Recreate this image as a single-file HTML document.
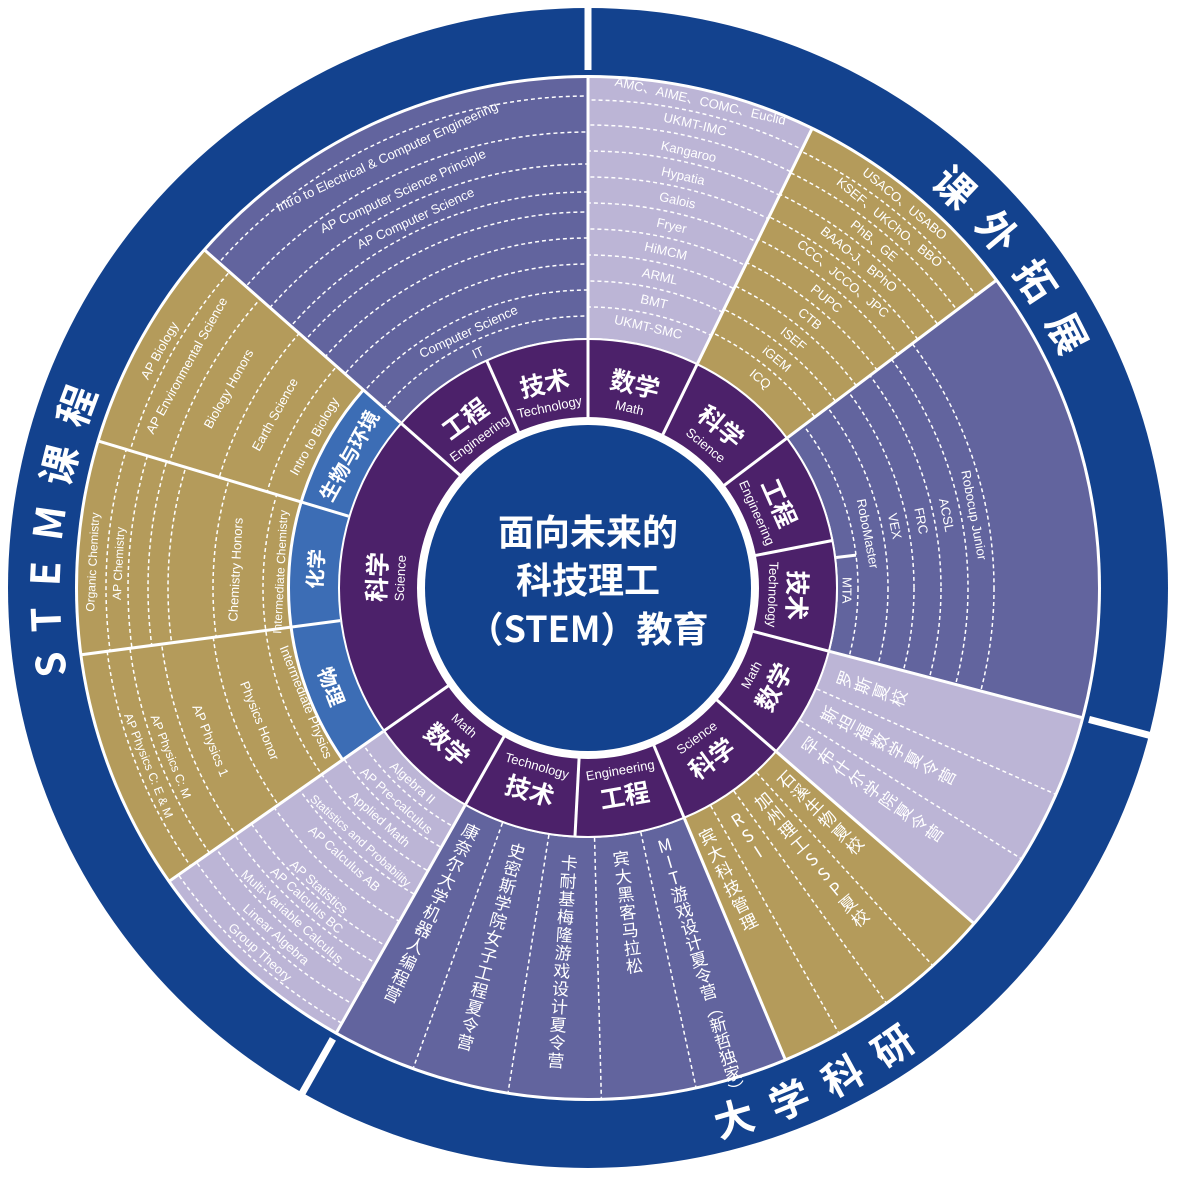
<!DOCTYPE html>
<html><head><meta charset="utf-8"><style>
html,body{margin:0;padding:0;background:#fff;}
svg{display:block;}
text{font-family:"Liberation Sans","Noto Sans CJK SC",sans-serif;fill:#fff;}
.l{font-size:13px;text-anchor:middle;dominant-baseline:central;}
.s{font-size:12px;text-anchor:middle;dominant-baseline:central;}
.cn{font-size:25px;font-weight:bold;text-anchor:middle;dominant-baseline:central;font-family:"Noto Sans CJK SC",sans-serif;}
.en{font-size:13px;text-anchor:middle;dominant-baseline:central;}
.sb{font-size:20px;font-weight:bold;text-anchor:middle;dominant-baseline:central;font-family:"Noto Sans CJK SC",sans-serif;}
.v{font-size:17px;letter-spacing:2px;writing-mode:vertical-rl;text-orientation:upright;font-family:"Noto Sans CJK SC",sans-serif;}
.big{font-size:40px;font-weight:bold;font-family:"Noto Sans CJK SC",sans-serif;letter-spacing:20px;}
.ctr{font-size:36px;font-weight:bold;text-anchor:middle;dominant-baseline:central;font-family:"Noto Sans CJK SC",sans-serif;}
.d{fill:none;stroke:#fff;stroke-width:1.5;stroke-dasharray:4 3;}
</style></head><body>
<svg width="1177" height="1177" viewBox="0 0 1177 1177">
<defs>
<mask id="mA" maskUnits="userSpaceOnUse" x="0" y="0" width="1177" height="1177"><circle cx="588" cy="588" r="380" fill="none" stroke="#fff" stroke-width="262" pathLength="360" stroke-dasharray="26 360" stroke-dashoffset="0" transform="rotate(-90 588 588)"/></mask>
<mask id="mB" maskUnits="userSpaceOnUse" x="0" y="0" width="1177" height="1177"><circle cx="588" cy="588" r="380" fill="none" stroke="#fff" stroke-width="262" pathLength="360" stroke-dasharray="27 360" stroke-dashoffset="-26" transform="rotate(-90 588 588)"/></mask>
<mask id="mC" maskUnits="userSpaceOnUse" x="0" y="0" width="1177" height="1177"><circle cx="588" cy="588" r="380" fill="none" stroke="#fff" stroke-width="262" pathLength="360" stroke-dasharray="51.7 360" stroke-dashoffset="-53" transform="rotate(-90 588 588)"/></mask>
<mask id="mM" maskUnits="userSpaceOnUse" x="0" y="0" width="1177" height="1177"><circle cx="588" cy="588" r="380" fill="none" stroke="#fff" stroke-width="262" pathLength="360" stroke-dasharray="25.5 360" stroke-dashoffset="-209.5" transform="rotate(-90 588 588)"/></mask>
<mask id="mP" maskUnits="userSpaceOnUse" x="0" y="0" width="1177" height="1177"><circle cx="588" cy="588" r="405" fill="none" stroke="#fff" stroke-width="212" pathLength="360" stroke-dasharray="27.5 360" stroke-dashoffset="-235" transform="rotate(-90 588 588)"/></mask>
<mask id="mH" maskUnits="userSpaceOnUse" x="0" y="0" width="1177" height="1177"><circle cx="588" cy="588" r="405" fill="none" stroke="#fff" stroke-width="212" pathLength="360" stroke-dasharray="24.2 360" stroke-dashoffset="-262.5" transform="rotate(-90 588 588)"/></mask>
<mask id="mG" maskUnits="userSpaceOnUse" x="0" y="0" width="1177" height="1177"><circle cx="588" cy="588" r="405" fill="none" stroke="#fff" stroke-width="212" pathLength="360" stroke-dasharray="24.7 360" stroke-dashoffset="-286.7" transform="rotate(-90 588 588)"/></mask>
<mask id="mS" maskUnits="userSpaceOnUse" x="0" y="0" width="1177" height="1177"><circle cx="588" cy="588" r="380" fill="none" stroke="#fff" stroke-width="262" pathLength="360" stroke-dasharray="48.6 360" stroke-dashoffset="-311.4" transform="rotate(-90 588 588)"/></mask>
<path id="cw" d="M 588 1116 A 528 528 0 1 1 588 60 A 528 528 0 1 1 588 1116"/>
<path id="ccw" d="M 588 23 A 565 565 0 1 0 588 1153 A 565 565 0 1 0 588 23"/>
</defs>

<circle cx="588" cy="588" r="580" fill="#13428e"/>
<circle cx="588" cy="588" r="513" fill="#fff"/>
<g stroke="#fff" stroke-width="7">
<line x1="588" y1="70" x2="588" y2="0" transform="rotate(0 588 588)"/>
<line x1="588" y1="70" x2="588" y2="0" transform="rotate(104.7 588 588)"/>
<line x1="588" y1="70" x2="588" y2="0" transform="rotate(209.5 588 588)"/>
</g>

<g fill="none" transform="rotate(-90 588 588)">
<circle cx="588" cy="588" r="380" stroke="#bcb5d6" stroke-width="260" pathLength="360" stroke-dasharray="26 360" stroke-dashoffset="0"/>
<circle cx="588" cy="588" r="380" stroke="#b49b5b" stroke-width="260" pathLength="360" stroke-dasharray="27 360" stroke-dashoffset="-26"/>
<circle cx="588" cy="588" r="380" stroke="#62649e" stroke-width="260" pathLength="360" stroke-dasharray="51.7 360" stroke-dashoffset="-53"/>
<circle cx="588" cy="588" r="380" stroke="#bcb5d6" stroke-width="260" pathLength="360" stroke-dasharray="26.3 360" stroke-dashoffset="-104.7"/>
<circle cx="588" cy="588" r="380" stroke="#b49b5b" stroke-width="260" pathLength="360" stroke-dasharray="26.3 360" stroke-dashoffset="-131"/>
<circle cx="588" cy="588" r="380" stroke="#62649e" stroke-width="260" pathLength="360" stroke-dasharray="52.2 360" stroke-dashoffset="-157.3"/>
<circle cx="588" cy="588" r="380" stroke="#bcb5d6" stroke-width="260" pathLength="360" stroke-dasharray="25.5 360" stroke-dashoffset="-209.5"/>
<circle cx="588" cy="588" r="405" stroke="#b49b5b" stroke-width="210" pathLength="360" stroke-dasharray="76.4 360" stroke-dashoffset="-235"/>
<circle cx="588" cy="588" r="274" stroke="#3c6db5" stroke-width="50" pathLength="360" stroke-dasharray="76.4 360" stroke-dashoffset="-235"/>
<circle cx="588" cy="588" r="380" stroke="#62649e" stroke-width="260" pathLength="360" stroke-dasharray="48.6 360" stroke-dashoffset="-311.4"/>
<circle cx="588" cy="588" r="299.5" stroke="#fff" stroke-width="3" pathLength="360" stroke-dasharray="76.4 360" stroke-dashoffset="-235"/>
</g>

<g class="d" mask="url(#mA)"><circle cx="588" cy="588" r="488"/><circle cx="588" cy="588" r="463"/><circle cx="588" cy="588" r="437"/><circle cx="588" cy="588" r="411"/><circle cx="588" cy="588" r="385"/><circle cx="588" cy="588" r="359"/><circle cx="588" cy="588" r="333"/><circle cx="588" cy="588" r="307"/><circle cx="588" cy="588" r="281"/></g>
<g class="d" mask="url(#mB)"><circle cx="588" cy="588" r="486"/><circle cx="588" cy="588" r="462"/><circle cx="588" cy="588" r="438"/><circle cx="588" cy="588" r="413"/><circle cx="588" cy="588" r="388"/><circle cx="588" cy="588" r="362"/><circle cx="588" cy="588" r="336"/><circle cx="588" cy="588" r="310"/><circle cx="588" cy="588" r="284"/></g>
<g class="d" mask="url(#mC)"><circle cx="588" cy="588" r="270"/><circle cx="588" cy="588" r="300"/><circle cx="588" cy="588" r="326"/><circle cx="588" cy="588" r="353"/><circle cx="588" cy="588" r="380"/><circle cx="588" cy="588" r="406"/></g>
<g class="d" mask="url(#mM)"><circle cx="588" cy="588" r="274"/><circle cx="588" cy="588" r="298"/><circle cx="588" cy="588" r="325"/><circle cx="588" cy="588" r="352"/><circle cx="588" cy="588" r="383"/><circle cx="588" cy="588" r="411"/><circle cx="588" cy="588" r="431"/><circle cx="588" cy="588" r="454"/><circle cx="588" cy="588" r="478"/><circle cx="588" cy="588" r="500"/></g>
<g class="d" mask="url(#mP)"><circle cx="588" cy="588" r="325"/><circle cx="588" cy="588" r="378"/><circle cx="588" cy="588" r="430"/><circle cx="588" cy="588" r="462"/><circle cx="588" cy="588" r="485"/></g>
<g class="d" mask="url(#mH)"><circle cx="588" cy="588" r="325"/><circle cx="588" cy="588" r="375"/><circle cx="588" cy="588" r="420"/><circle cx="588" cy="588" r="440"/><circle cx="588" cy="588" r="460"/><circle cx="588" cy="588" r="482"/></g>
<g class="d" mask="url(#mG)"><circle cx="588" cy="588" r="335"/><circle cx="588" cy="588" r="385"/><circle cx="588" cy="588" r="437"/><circle cx="588" cy="588" r="478"/></g>
<g class="d" mask="url(#mS)"><circle cx="588" cy="588" r="272"/><circle cx="588" cy="588" r="298"/><circle cx="588" cy="588" r="324"/><circle cx="588" cy="588" r="350"/><circle cx="588" cy="588" r="376"/><circle cx="588" cy="588" r="396"/><circle cx="588" cy="588" r="424"/><circle cx="588" cy="588" r="456"/><circle cx="588" cy="588" r="492"/></g>

<g stroke="#fff" stroke-width="1.5" stroke-dasharray="4 3">
<line x1="588" y1="338" x2="588" y2="78" transform="rotate(113.8 588 588)"/>
<line x1="588" y1="338" x2="588" y2="78" transform="rotate(122 588 588)"/>
<line x1="588" y1="338" x2="588" y2="78" transform="rotate(137.6 588 588)"/>
<line x1="588" y1="338" x2="588" y2="78" transform="rotate(144.3 588 588)"/>
<line x1="588" y1="338" x2="588" y2="78" transform="rotate(150.6 588 588)"/>
<line x1="588" y1="338" x2="588" y2="78" transform="rotate(167.8 588 588)"/>
<line x1="588" y1="338" x2="588" y2="78" transform="rotate(178.5 588 588)"/>
<line x1="588" y1="338" x2="588" y2="78" transform="rotate(189 588 588)"/>
<line x1="588" y1="338" x2="588" y2="78" transform="rotate(200 588 588)"/>
</g>

<circle cx="588" cy="588" r="250" fill="#fff"/>
<circle cx="588" cy="588" r="248" fill="#4c216a"/>
<circle cx="588" cy="588" r="171" fill="#fff"/>
<circle cx="588" cy="588" r="163" fill="#13428e"/>

<g stroke="#fff" stroke-width="3">
<line x1="588" y1="338" x2="588" y2="76" transform="rotate(0 588 588)"/>
<line x1="588" y1="338" x2="588" y2="76" transform="rotate(26 588 588)"/>
<line x1="588" y1="338" x2="588" y2="76" transform="rotate(53 588 588)"/>
<line x1="588" y1="338" x2="588" y2="76" transform="rotate(104.7 588 588)"/>
<line x1="588" y1="338" x2="588" y2="76" transform="rotate(131 588 588)"/>
<line x1="588" y1="338" x2="588" y2="76" transform="rotate(157.3 588 588)"/>
<line x1="588" y1="338" x2="588" y2="76" transform="rotate(209.5 588 588)"/>
<line x1="588" y1="338" x2="588" y2="76" transform="rotate(235 588 588)"/>
<line x1="588" y1="338" x2="588" y2="76" transform="rotate(262.5 588 588)"/>
<line x1="588" y1="338" x2="588" y2="76" transform="rotate(286.7 588 588)"/>
<line x1="588" y1="338" x2="588" y2="76" transform="rotate(311.4 588 588)"/>
<line x1="588" y1="338" x2="588" y2="318" transform="rotate(83 588 588)"/>
</g>
<g stroke="#fff" stroke-width="3">
<line x1="588" y1="418" x2="588" y2="339" transform="rotate(0 588 588)"/>
<line x1="588" y1="418" x2="588" y2="339" transform="rotate(26 588 588)"/>
<line x1="588" y1="418" x2="588" y2="339" transform="rotate(53 588 588)"/>
<line x1="588" y1="418" x2="588" y2="339" transform="rotate(79 588 588)"/>
<line x1="588" y1="418" x2="588" y2="339" transform="rotate(104.7 588 588)"/>
<line x1="588" y1="418" x2="588" y2="339" transform="rotate(131 588 588)"/>
<line x1="588" y1="418" x2="588" y2="339" transform="rotate(157.3 588 588)"/>
<line x1="588" y1="418" x2="588" y2="339" transform="rotate(183 588 588)"/>
<line x1="588" y1="418" x2="588" y2="339" transform="rotate(209.5 588 588)"/>
<line x1="588" y1="418" x2="588" y2="339" transform="rotate(235 588 588)"/>
<line x1="588" y1="418" x2="588" y2="339" transform="rotate(311.4 588 588)"/>
<line x1="588" y1="418" x2="588" y2="339" transform="rotate(336 588 588)"/>
</g>

<text class="cn" x="588" y="378" transform="rotate(13 588 588)">数学</text><text class="en" x="588" y="403" transform="rotate(13 588 588)">Math</text>
<text class="cn" x="588" y="378" transform="rotate(39.5 588 588)">科学</text><text class="en" x="588" y="403" transform="rotate(39.5 588 588)">Science</text>
<text class="cn" x="588" y="378" transform="rotate(66 588 588)">工程</text><text class="en" x="588" y="403" transform="rotate(66 588 588)">Engineering</text>
<text class="cn" x="588" y="378" transform="rotate(92 588 588)">技术</text><text class="en" x="588" y="403" transform="rotate(92 588 588)">Technology</text>
<text class="cn" x="588" y="798" transform="rotate(-62 588 588)">数学</text><text class="en" x="588" y="773" transform="rotate(-62 588 588)">Math</text>
<text class="cn" x="588" y="798" transform="rotate(-36 588 588)">科学</text><text class="en" x="588" y="773" transform="rotate(-36 588 588)">Science</text>
<text class="cn" x="588" y="798" transform="rotate(-10 588 588)">工程</text><text class="en" x="588" y="773" transform="rotate(-10 588 588)">Engineering</text>
<text class="cn" x="588" y="798" transform="rotate(16 588 588)">技术</text><text class="en" x="588" y="773" transform="rotate(16 588 588)">Technology</text>
<text class="cn" x="588" y="798" transform="rotate(42 588 588)">数学</text><text class="en" x="588" y="773" transform="rotate(42 588 588)">Math</text>
<text class="cn" x="588" y="376" transform="rotate(273 588 588)">科学</text><text class="en" x="588" y="400" transform="rotate(273 588 588)">Science</text>
<text class="cn" x="588" y="378" transform="rotate(324 588 588)">工程</text><text class="en" x="588" y="403" transform="rotate(324 588 588)">Engineering</text>
<text class="cn" x="588" y="378" transform="rotate(348 588 588)">技术</text><text class="en" x="588" y="403" transform="rotate(348 588 588)">Technology</text>

<text class="sb" x="588" y="314" transform="rotate(299 588 588)">生物与环境</text>
<text class="sb" x="588" y="314" transform="rotate(274 588 588)">化学</text>
<text class="sb" x="588" y="862" transform="rotate(69 588 588)">物理</text>

<text class="ctr" x="588" y="530">面向未来的</text>
<text class="ctr" x="588" y="578">科技理工</text>
<text class="ctr" x="588" y="627">（STEM）教育</text>

<g transform="rotate(13 588 588)">
<text class="l" x="588" y="88">AMC、AIME、COMC、Euclid</text>
<text class="l" x="588" y="112">UKMT-IMC</text>
<text class="l" x="588" y="140">Kangaroo</text>
<text class="l" x="588" y="165">Hypatia</text>
<text class="l" x="588" y="190">Galois</text>
<text class="l" x="588" y="216">Fryer</text>
<text class="l" x="588" y="242">HiMCM</text>
<text class="l" x="588" y="268">ARML</text>
<text class="l" x="588" y="294">BMT</text>
<text class="l" x="588" y="320">UKMT-SMC</text>
</g>
<g transform="rotate(39.5 588 588)">
<text class="l" x="588" y="90">USACO、USABO</text>
<text class="l" x="588" y="114">KSEF、UKChO、BBO</text>
<text class="l" x="588" y="138">PhB、GE</text>
<text class="l" x="588" y="162">BAAO-J、BPhO</text>
<text class="l" x="588" y="187">CCC、JCCO、JPC</text>
<text class="l" x="588" y="213">PUPC</text>
<text class="l" x="588" y="239">CTB</text>
<text class="l" x="588" y="265">ISEF</text>
<text class="l" x="588" y="291">iGEM</text>
<text class="l" x="588" y="317">ICQ</text>
</g>
<text class="l" x="588" y="195" transform="rotate(79.3 588 588)">Robocup Junior</text>
<text class="l" x="588" y="222" transform="rotate(78.5 588 588)">ACSL</text>
<text class="l" x="588" y="248" transform="rotate(78.6 588 588)">FRC</text>
<text class="l" x="588" y="275" transform="rotate(78.6 588 588)">VEX</text>
<text class="l" x="588" y="303" transform="rotate(79 588 588)">RoboMaster</text>
<text class="l" x="588" y="329" transform="rotate(90.5 588 588)">MTA</text>

<g transform="rotate(335 588 588)">
<text class="l" x="588" y="112">Intro to Electrical &amp; Computer Engineering</text>
<text class="l" x="588" y="150">AP Computer Science Principle</text>
<text class="l" x="588" y="180">AP Computer Science</text>
<text class="l" x="588" y="305">Computer Science</text>
<text class="l" x="588" y="328">IT</text>
</g>
<g transform="rotate(299 588 588)">
<text class="l" x="588" y="98">AP Biology</text>
<text class="l" x="588" y="129">AP Environmental Science</text>
<text class="l" x="588" y="177">Biology Honors</text>
<text class="l" x="588" y="230">Earth Science</text>
<text class="l" x="588" y="275">Intro to Biology</text>
</g>
<g transform="rotate(273 588 588)">
<text class="s" x="588" y="92">Organic Chemistry</text>
<text class="s" x="588" y="118">AP Chemistry</text>
<text class="l" x="588" y="235">Chemistry Honors</text>
<text class="s" x="588" y="280">Intermediate Chemistry</text>
</g>
<g transform="rotate(68 588 588)">
<text class="s" x="588" y="1062">AP Physics C: E &amp; M</text>
<text class="s" x="588" y="1038">AP Physics C: M</text>
<text class="l" x="588" y="995">AP Physics 1</text>
<text class="l" x="588" y="942">Physics Honor</text>
<text class="l" x="588" y="892">Intermediate Physics</text>
</g>
<g transform="rotate(42 588 588)">
<text class="l" x="588" y="850">Algebra II</text>
<text class="l" x="588" y="874">AP Pre-calculus</text>
<text class="l" x="588" y="899">Applied Math</text>
<text class="s" x="588" y="928">Statistics and Probability</text>
<text class="l" x="588" y="952">AP Calculus AB</text>
<text class="l" x="588" y="990">AP Statistics</text>
<text class="l" x="588" y="1008">AP Calculus BC</text>
<text class="l" x="588" y="1030">Multi-Variable Calculus</text>
<text class="l" x="588" y="1054">Linear Algebra</text>
<text class="l" x="588" y="1078">Group Theory</text>
</g>

<text class="v" x="588" y="852" transform="rotate(-70.5 588 588)">罗斯夏校</text>
<text class="v" x="588" y="852" transform="rotate(-62.3 588 588)">斯坦福数学夏令营</text>
<text class="v" x="588" y="852" transform="rotate(-54.7 588 588)">罕布什尔学院夏令营</text>
<text class="v" x="588" y="855" transform="rotate(-46 588 588)">石溪生物夏校</text>
<text class="v" x="588" y="855" transform="rotate(-39.5 588 588)">加州理工SSP夏校</text>
<text class="v" x="588" y="855" transform="rotate(-32.8 588 588)">RSI</text>
<text class="v" x="588" y="855" transform="rotate(-25.7 588 588)">宾大科技管理</text>
<text class="v" x="588" y="850" transform="rotate(25.7 588 588)" style="letter-spacing:1px">康奈尔大学机器人编程营</text>
<text class="v" x="588" y="852" transform="rotate(15.1 588 588)" style="letter-spacing:1px">史密斯学院女子工程夏令营</text>
<text class="v" x="588" y="855" transform="rotate(3.9 588 588)" style="letter-spacing:1px">卡耐基梅隆游戏设计夏令营</text>
<text class="v" x="588" y="852" transform="rotate(-7 588 588)" style="letter-spacing:1px">宾大黑客马拉松</text>
<text class="v" x="588" y="848" transform="rotate(-16.6 588 588)" style="letter-spacing:0px">MIT游戏设计夏令营（新哲独家）</text>

<text class="big"><textPath href="#cw" startOffset="27%" text-anchor="middle">STEM课程</textPath></text>
<text class="big"><textPath href="#cw" startOffset="64.8%" text-anchor="middle">课外拓展</textPath></text>
<text class="big"><textPath href="#ccw" startOffset="57.1%" text-anchor="middle">大学科研</textPath></text>
</svg>
</body></html>
